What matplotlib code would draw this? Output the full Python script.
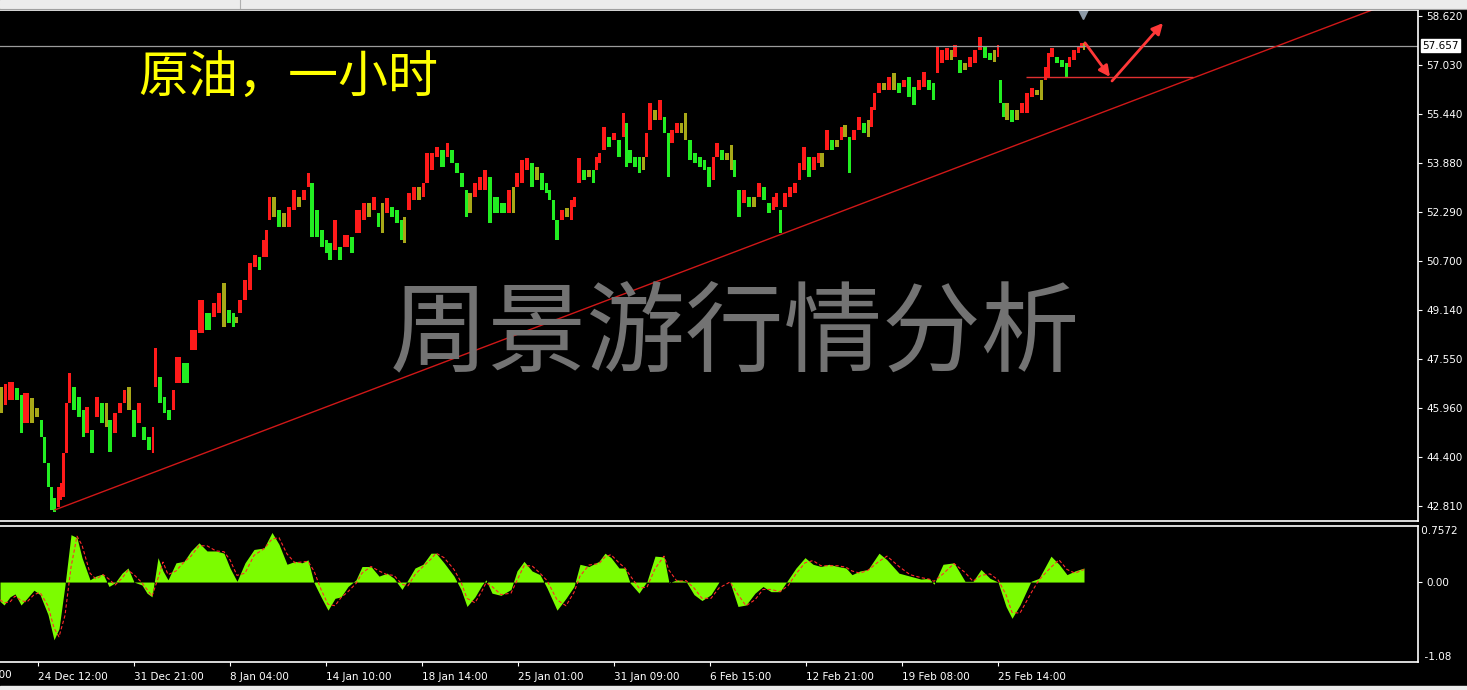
import numpy as np
import matplotlib
matplotlib.use('Agg')
import matplotlib.pyplot as plt
from matplotlib.patches import Rectangle
from matplotlib.lines import Line2D

plt.rcParams['font.family'] = ['DejaVu Sans']

# hourly bars (index = hours since left edge), sampled high / low
bar_idx = [0, 4, 8, 15, 20, 23, 30, 35, 40, 43, 47, 50, 53, 57, 60, 62, 65, 68, 72, 77,
           82, 85, 90, 95, 100, 105, 108, 113, 118, 123, 127, 132, 137, 142, 147, 152, 154, 158, 163, 167,
           172, 175, 182, 190, 198, 205, 212, 217, 222, 227, 232, 235, 238, 243, 248, 253, 258, 262, 265, 268,
           272, 277, 282, 287, 292, 297, 302, 307, 310, 315, 320, 325, 328, 333, 338, 343, 350, 355, 362, 367,
           372, 377, 381, 385, 390, 395, 400, 403, 407, 412, 417, 422, 425, 430, 435, 440, 446, 450, 455, 460,
           465, 468, 473, 478, 483, 488, 493, 500, 507, 512, 515, 520, 525, 530, 535, 540, 545, 548, 552, 555,
           560, 565, 570, 573, 577, 582, 587, 592, 595, 598, 602, 607, 612, 617, 622, 625, 628, 633, 638, 642,
           645, 648, 653, 658, 663, 667, 670, 675, 680, 684, 688, 693, 698, 703, 707, 712, 715, 720, 725, 730,
           733, 737, 742, 747, 752, 757, 762, 767, 772, 775, 779, 783, 788, 793, 798, 802, 807, 812, 817, 820,
           825, 830, 835, 840, 843, 848, 852, 857, 862, 867, 870, 873, 877, 882, 887, 892, 897, 902, 907, 912,
           917, 922, 927, 932, 936, 940, 945, 950, 953, 958, 963, 968, 973, 978, 983, 988, 993, 997, 999, 1002,
           1005, 1010, 1015, 1020, 1025, 1030, 1035, 1040, 1044, 1047, 1050, 1055, 1060, 1065, 1068, 1072, 1077, 1080, 1083]
bar_high = [46.65, 46.74, 46.81, 46.61, 46.39, 46.45, 46.29, 45.97, 45.58, 45.03, 44.20, 43.42, 43.07, 43.42, 43.55, 44.52, 46.13, 47.10, 46.65, 46.32,
            45.91, 46.00, 45.26, 46.32, 46.13, 46.13, 45.58, 45.81, 46.13, 46.55, 46.65, 45.91, 46.13, 45.36, 45.03, 45.36, 47.91, 46.97, 46.32, 45.91,
            46.55, 47.62, 47.42, 48.49, 49.45, 49.03, 49.36, 49.68, 50.00, 49.13, 49.03, 48.91, 49.45, 50.10, 50.65, 50.91, 50.84, 51.39, 51.71, 52.78,
            52.78, 52.36, 52.26, 52.46, 53.00, 52.78, 53.00, 53.55, 53.23, 52.36, 51.71, 51.39, 51.29, 52.04, 51.17, 51.55, 51.49, 52.36, 52.59, 52.59,
            52.78, 52.26, 52.59, 52.75, 52.46, 52.36, 52.04, 52.13, 52.91, 53.10, 53.10, 53.23, 54.20, 54.20, 54.39, 54.30, 54.52, 54.30, 53.88, 53.55,
            53.00, 52.91, 53.23, 53.42, 53.65, 53.42, 52.78, 52.59, 53.00, 53.10, 53.55, 53.97, 54.04, 53.88, 53.75, 53.55, 53.23, 53.00, 52.68, 52.04,
            52.36, 52.42, 52.68, 52.78, 54.04, 53.65, 53.65, 53.65, 54.07, 54.20, 55.04, 54.71, 54.84, 54.62, 55.49, 55.17, 54.30, 54.07, 54.07, 54.07,
            54.84, 55.81, 55.59, 55.91, 55.36, 54.84, 54.94, 55.17, 55.17, 55.49, 54.62, 54.20, 54.07, 53.97, 53.75, 54.07, 54.52, 54.30, 54.20, 54.46,
            53.97, 53.00, 53.00, 52.78, 52.78, 53.23, 53.10, 52.59, 52.78, 52.91, 52.36, 52.91, 53.10, 53.23, 53.88, 54.39, 54.07, 54.07, 54.20, 54.20,
            54.94, 54.62, 54.62, 55.04, 55.10, 54.71, 54.94, 55.36, 55.17, 55.26, 55.68, 56.14, 56.46, 56.46, 56.65, 56.78, 56.46, 56.55, 56.65, 56.33,
            56.55, 56.81, 56.55, 56.46, 57.62, 57.52, 57.59, 57.52, 57.68, 57.20, 57.10, 57.30, 57.52, 57.94, 57.62, 57.43, 57.52, 57.68, 56.55, 55.81,
            55.81, 55.59, 55.59, 55.81, 56.14, 56.30, 56.23, 56.55, 56.97, 57.43, 57.59, 57.30, 57.20, 57.10, 57.30, 57.52, 57.62, 57.75, 57.75]
bar_low = [45.81, 46.07, 46.23, 46.23, 45.16, 45.49, 45.49, 45.68, 45.03, 44.20, 43.42, 42.68, 42.61, 42.77, 43.00, 43.10, 44.52, 46.13, 45.91, 45.68,
           45.03, 45.16, 44.52, 45.68, 45.49, 45.36, 44.55, 45.16, 45.81, 46.13, 45.91, 45.03, 45.49, 44.94, 44.61, 44.52, 46.65, 46.13, 45.81, 45.58,
           45.91, 46.78, 46.78, 47.84, 48.39, 48.49, 48.91, 49.03, 48.59, 48.71, 48.59, 48.71, 49.03, 49.45, 49.78, 50.52, 50.42, 50.84, 50.84, 52.04,
           52.13, 51.81, 51.81, 51.81, 52.36, 52.46, 52.68, 53.10, 51.49, 51.49, 51.17, 50.97, 50.75, 51.07, 50.75, 51.17, 50.97, 51.62, 52.04, 52.13,
           52.36, 51.81, 51.62, 52.26, 52.13, 51.94, 51.39, 51.29, 52.36, 52.68, 52.68, 52.78, 53.23, 53.65, 54.07, 53.75, 54.07, 53.88, 53.55, 53.10,
           52.13, 52.26, 52.78, 53.00, 53.00, 51.94, 52.26, 52.26, 52.26, 52.26, 53.10, 53.23, 53.65, 53.10, 53.33, 53.00, 52.91, 52.68, 52.04, 51.39,
           52.04, 52.13, 52.04, 52.46, 53.23, 53.33, 53.42, 53.23, 53.65, 53.88, 54.30, 54.39, 54.62, 54.07, 54.71, 53.75, 53.88, 53.75, 53.55, 53.65,
           54.07, 54.94, 55.26, 55.26, 54.84, 53.42, 54.52, 54.84, 54.84, 54.62, 53.97, 53.88, 53.75, 53.65, 53.10, 53.33, 54.07, 53.97, 53.97, 53.65,
           53.42, 52.13, 52.59, 52.46, 52.46, 52.78, 52.68, 52.26, 52.36, 52.46, 51.62, 52.46, 52.78, 52.91, 53.33, 53.65, 53.42, 53.65, 53.88, 53.75,
           54.30, 54.30, 54.39, 54.62, 54.71, 53.55, 54.62, 54.94, 54.84, 54.71, 55.04, 55.59, 56.14, 56.23, 56.23, 56.23, 56.14, 56.33, 56.01, 55.75,
           56.23, 56.33, 56.23, 55.91, 56.78, 57.10, 57.20, 57.20, 57.30, 56.78, 56.88, 56.97, 57.10, 57.52, 57.26, 57.20, 57.14, 57.30, 55.81, 55.36,
           55.26, 55.20, 55.26, 55.49, 55.49, 56.01, 56.07, 55.91, 56.55, 56.65, 57.30, 57.10, 56.97, 56.65, 56.97, 57.20, 57.43, 57.59, 57.52]

price_ticks = [58.620, 57.030, 55.440, 53.880, 52.290, 50.700, 49.140, 47.550, 45.960, 44.400, 42.810]
last_price = 57.657

# oscillator sub window (main histogram + dotted signal)
osc_idx = [0, 4, 10, 15, 21, 27, 34, 40, 48, 54, 59, 65, 71, 77, 82, 90, 96, 103, 109, 115,
           122, 128, 134, 142, 147, 152, 158, 163, 168, 176, 184, 191, 199, 207, 216, 224, 230, 237, 245, 254,
           264, 272, 279, 287, 295, 302, 308, 314, 321, 328, 335, 341, 348, 356, 362, 371, 379, 387, 394, 402,
           408, 415, 423, 431, 436, 444, 454, 461, 467, 475, 482, 486, 492, 501, 511, 517, 524, 532, 540, 547,
           557, 566, 574, 580, 589, 599, 605, 611, 619, 625, 630, 639, 647, 655, 664, 669, 677, 686, 694, 702,
           711, 719, 730, 738, 746, 755, 763, 771, 780, 788, 796, 805, 813, 821, 829, 838, 846, 852, 860, 868,
           879, 887, 899, 910, 921, 929, 934, 943, 954, 965, 973, 981, 990, 998, 1006, 1012, 1020, 1031, 1039, 1051,
           1059, 1067, 1075, 1084]
osc_main = [-0.26, -0.31, -0.20, -0.16, -0.31, -0.22, -0.11, -0.17, -0.44, -0.78, -0.63, -0.04, 0.64, 0.60, 0.33, 0.03, 0.08, 0.11, -0.06, -0.01,
            0.12, 0.19, 0.00, -0.04, -0.15, -0.20, 0.33, 0.15, 0.03, 0.26, 0.28, 0.42, 0.53, 0.42, 0.42, 0.39, 0.19, 0.01, 0.26, 0.44,
            0.46, 0.67, 0.51, 0.24, 0.28, 0.26, 0.30, -0.01, -0.20, -0.38, -0.22, -0.20, -0.06, 0.03, 0.21, 0.21, 0.08, 0.12, 0.05, -0.10,
            0.03, 0.19, 0.24, 0.39, 0.39, 0.26, 0.08, -0.10, -0.33, -0.20, -0.04, 0.03, -0.15, -0.18, -0.10, 0.15, 0.28, 0.15, 0.10, -0.08,
            -0.38, -0.22, -0.06, 0.24, 0.21, 0.28, 0.39, 0.33, 0.19, 0.19, -0.01, -0.15, 0.01, 0.35, 0.34, -0.01, 0.03, 0.01, -0.17, -0.25,
            -0.17, 0.00, 0.00, -0.33, -0.31, -0.15, -0.06, -0.13, -0.13, 0.03, 0.19, 0.33, 0.24, 0.21, 0.24, 0.21, 0.19, 0.10, 0.15, 0.17,
            0.39, 0.30, 0.12, 0.08, 0.04, 0.05, -0.03, 0.24, 0.26, 0.01, 0.01, 0.17, 0.05, 0.00, -0.33, -0.49, -0.31, 0.01, 0.05, 0.35,
            0.24, 0.10, 0.15, 0.19]
osc_signal = [-0.24, -0.28, -0.27, -0.19, -0.25, -0.27, -0.17, -0.14, -0.32, -0.62, -0.74, -0.45, 0.20, 0.62, 0.50, 0.12, 0.04, 0.10, 0.04, -0.04,
              0.05, 0.16, 0.10, -0.01, -0.10, -0.19, 0.05, 0.27, 0.10, 0.15, 0.27, 0.35, 0.49, 0.49, 0.42, 0.41, 0.30, 0.09, 0.12, 0.36,
              0.45, 0.58, 0.60, 0.38, 0.26, 0.27, 0.28, 0.15, -0.10, -0.30, -0.32, -0.21, -0.13, -0.02, 0.12, 0.21, 0.15, 0.10, 0.09, -0.03,
              -0.05, 0.10, 0.21, 0.31, 0.39, 0.33, 0.17, 0.00, -0.22, -0.28, -0.12, -0.01, -0.06, -0.17, -0.15, 0.02, 0.22, 0.22, 0.12, 0.02,
              -0.24, -0.32, -0.14, 0.08, 0.23, 0.25, 0.34, 0.37, 0.26, 0.19, 0.09, -0.08, -0.07, 0.18, 0.35, 0.16, 0.01, 0.02, -0.08, -0.22,
              -0.22, -0.08, 0.00, -0.17, -0.32, -0.24, -0.10, -0.10, -0.13, -0.05, 0.11, 0.26, 0.29, 0.22, 0.22, 0.22, 0.20, 0.15, 0.12, 0.16,
              0.28, 0.35, 0.21, 0.10, 0.06, 0.04, 0.01, 0.11, 0.25, 0.13, 0.01, 0.09, 0.11, 0.03, -0.17, -0.41, -0.42, -0.15, 0.03, 0.20,
              0.30, 0.17, 0.12, 0.17]
osc_top = 0.7572
osc_bottom = -1.08

time_ticks = [38, 134, 230, 326, 422, 518, 614, 710, 806, 902, 998]
time_labels = ['24 Dec 12:00', '31 Dec 21:00', '8 Jan 04:00', '14 Jan 10:00', '18 Jan 14:00',
               '25 Jan 01:00', '31 Jan 09:00', '6 Feb 15:00', '12 Feb 21:00', '19 Feb 08:00', '25 Feb 14:00']
first_label = (-58, '18 Dec 03:00')

# drawn objects
trend_pts = [(55, 42.68), (1030, 54.62)]
support_level = 56.64
support_span = (1026, 1193)
arrow_down = [(1085, 57.75), (1110, 56.65)]
arrow_up = [(1112, 56.52), (1163, 58.39)]


def make_chart():
    W, H = 1467, 690
    fig = plt.figure(figsize=(W / 100, H / 100), dpi=100, facecolor='black')

    ax = fig.add_axes([0, 1 - 521 / H, 1418 / W, 511 / H], facecolor='black')
    ax2 = fig.add_axes([0, 1 - 662 / H, 1418 / W, 136 / H], facecolor='black')

    # price bars: red = rising, green = falling (like the terminal theme)
    hi = np.array(bar_high)
    lo = np.array(bar_low)
    mid = (hi + lo) / 2
    cols = []
    for i in range(len(mid)):
        d = mid[i] - mid[i - 1] if i > 0 else 0
        if d > 0.08:
            cols.append('#ff1a1a')
        elif d < -0.08:
            cols.append('#22ee22')
        else:
            cols.append('#a8a818')
    widths = np.diff(bar_idx, append=bar_idx[-1] + 2) * 0.85
    ax.bar(bar_idx, hi - lo, bottom=lo, width=widths, align='edge', color=cols, lw=0)

    ax.axhline(last_price, color='#9c9c9c', lw=0.9)
    # trend line is a ray starting at the first anchor
    slope = (trend_pts[1][1] - trend_pts[0][1]) / (trend_pts[1][0] - trend_pts[0][0])
    x_end = 1418
    ax.plot([trend_pts[0][0], x_end], [trend_pts[0][1], trend_pts[0][1] + slope * (x_end - trend_pts[0][0])],
            color='#d01818', lw=1.0)
    ax.hlines(support_level, support_span[0], support_span[1], color='#e03030', lw=1.0)
    for a in (arrow_down, arrow_up):
        ax.annotate('', xy=a[1], xytext=a[0],
                    arrowprops=dict(arrowstyle='-|>', color='#ff3838', lw=2.0, mutation_scale=16,
                                    shrinkA=0, shrinkB=0))
    ax.plot(1083, 58.70, marker='v', color='#8c99a6', ms=8, clip_on=False)

    ax.set_xlim(0, 1418)
    ax.set_ylim(42.32, 58.81)
    ax.set_xticks([])
    ax.yaxis.tick_right()
    ax.set_yticks(price_ticks)
    ax.set_yticklabels([f'{v:.3f}' for v in price_ticks])
    ax.tick_params(axis='y', colors='white', labelcolor='white', labelsize=7.5, length=3, pad=3)
    for s in ['top', 'right', 'bottom']:
        ax.spines[s].set_color('white')
        ax.spines[s].set_linewidth(1.2)
    ax.spines['left'].set_visible(False)

    ax.annotate(f'{last_price:.3f}', xy=(1.0, last_price), xycoords=('axes fraction', 'data'),
                xytext=(3, 0), textcoords='offset points', va='center', ha='left',
                fontsize=7.5, color='black', annotation_clip=False,
                bbox=dict(boxstyle='square,pad=0.12', fc='white', ec='white'))

    ax.text(0.0973, 0.867, '原油，一小时', transform=ax.transAxes, color='#ffff00',
            fontsize=36, va='center', ha='left', family=['Noto Sans CJK SC', 'DejaVu Sans'])
    ax.text(0.518, 0.364, '周景游行情分析', transform=ax.transAxes, color='#737373',
            fontsize=71, va='center', ha='center', fontweight='light',
            family=['Noto Sans CJK SC', 'DejaVu Sans'])

    # oscillator window
    ax2.fill_between(osc_idx, 0, osc_main, color='#7cfc00', lw=0)
    ax2.plot(osc_idx, osc_signal, color='#ff2a2a', lw=0.8, ls=(0, (3, 2)))
    ax2.set_xlim(0, 1418)
    ax2.set_ylim(osc_bottom, osc_top)
    ax2.yaxis.tick_right()
    ax2.set_yticks([0])
    ax2.set_yticklabels(['0.00'])
    ax2.tick_params(axis='y', colors='white', labelcolor='white', labelsize=7.5, length=3, pad=3)
    ax2.text(1.0, 1.0, f' {osc_top:.4f}', transform=ax2.transAxes, color='white', fontsize=7.5,
             va='top', ha='left')
    ax2.text(1.0, 0.0, f'  {osc_bottom:.2f}', transform=ax2.transAxes, color='white', fontsize=7.5,
             va='bottom', ha='left')
    ax2.set_xticks(time_ticks)
    ax2.set_xticklabels(time_labels)
    ax2.tick_params(axis='x', colors='white', labelcolor='white', labelsize=7.5, length=3, pad=4)
    for lab in ax2.get_xticklabels():
        lab.set_ha('left')
    ax2.text(first_label[0], -0.06, first_label[1], transform=ax2.get_xaxis_transform(),
             color='white', fontsize=7.5, va='top', ha='left', clip_on=False)
    for s in ['top', 'right', 'bottom']:
        ax2.spines[s].set_color('white')
        ax2.spines[s].set_linewidth(1.2)
    ax2.spines['left'].set_visible(False)

    # window chrome: toolbar strip on top, status strip at the bottom
    fig.patches.append(Rectangle((0, 1 - 8 / H), 1, 8 / H, transform=fig.transFigure,
                                 color='#ececec', zorder=0))
    fig.lines.append(Line2D([0, 1], [1 - 8.5 / H, 1 - 8.5 / H], transform=fig.transFigure,
                            color='#a0a0a0', lw=0.8))
    fig.lines.append(Line2D([240 / W, 240 / W], [1 - 8 / H, 1], transform=fig.transFigure,
                            color='#b0b0b0', lw=0.8))
    fig.patches.append(Rectangle((0, 0), 1, 4 / H, transform=fig.transFigure,
                                 color='#ececec', zorder=0))

    fig.savefig('out.png', dpi=100, facecolor='black')
    print("Saved out.png")


if __name__ == "__main__":
    make_chart()
